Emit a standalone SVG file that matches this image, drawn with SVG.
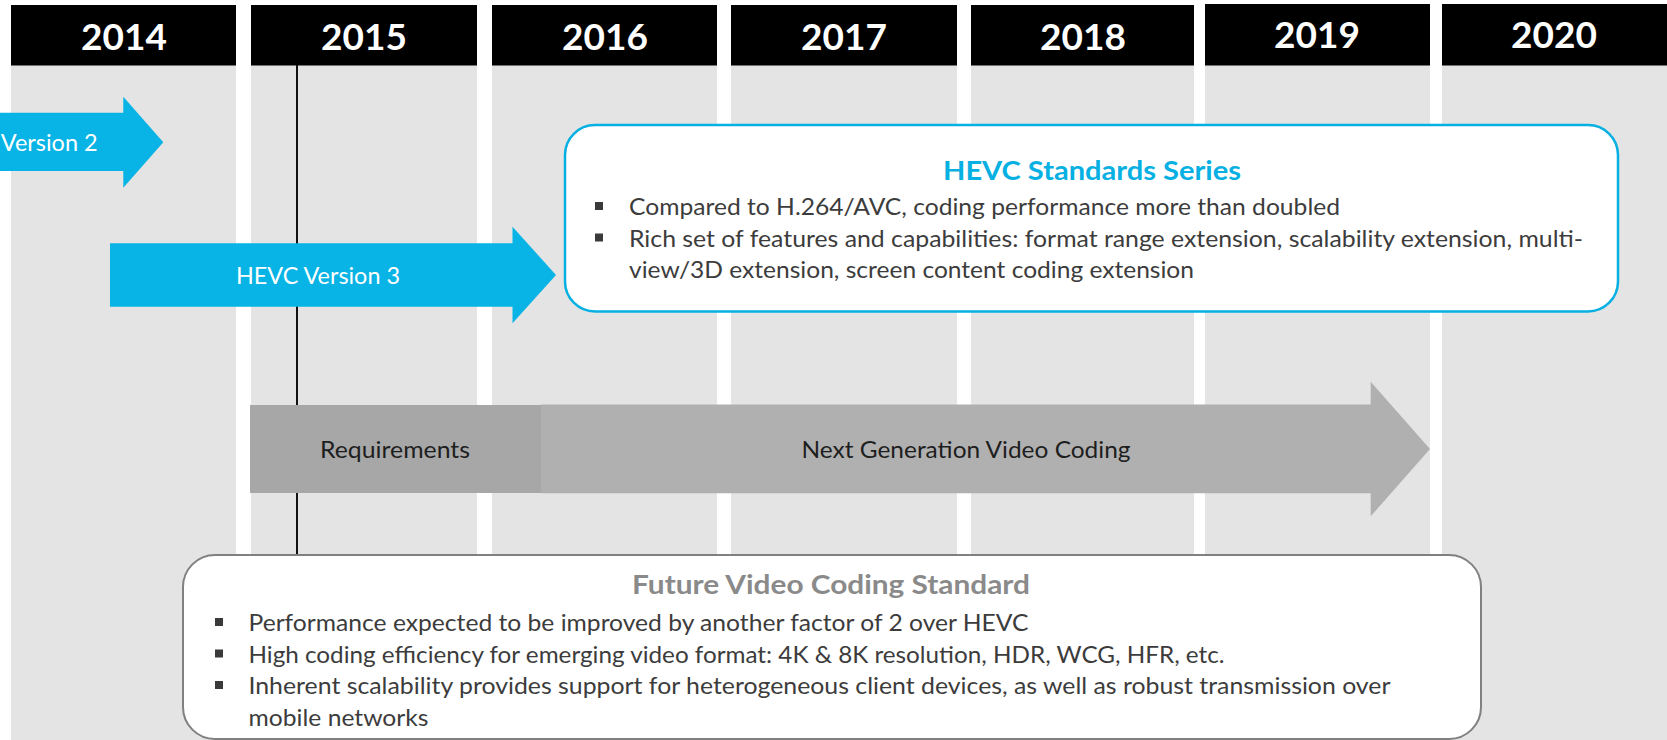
<svg xmlns="http://www.w3.org/2000/svg" width="1667" height="740" viewBox="0 0 1667 740">
<style>
.col{fill:#e4e4e4}
.hdr{fill:#000}
.yr{font-family:Lato,"Liberation Sans",sans-serif;font-weight:bold;font-size:37px;fill:#fff;text-anchor:middle}
.lbl{font-family:Lato,"Liberation Sans",sans-serif;font-size:23.5px}
.wl{fill:#fff}
.dl{fill:#1e1e1e;text-anchor:middle}
.cy{fill:#07b4e5}
.body{font-family:Lato,"Liberation Sans",sans-serif;font-size:23.5px;fill:#3c3c3c}
.ttl{font-family:Lato,"Liberation Sans",sans-serif;font-weight:bold;font-size:27px;text-anchor:middle}
.bul{fill:#3a3a3a}
</style>
<rect width="1667" height="740" fill="#fff"/>
<g id="columns">
<rect class="col" x="11" y="60" width="225" height="680"/>
<rect class="col" x="251" y="60" width="226" height="680"/>
<rect class="col" x="492" y="60" width="225" height="680"/>
<rect class="col" x="731" y="60" width="226" height="680"/>
<rect class="col" x="971" y="60" width="223" height="680"/>
<rect class="col" x="1205" y="60" width="225" height="680"/>
<rect class="col" x="1442" y="60" width="225" height="680"/>
</g>
<g id="year-2014"><rect class="hdr" x="11" y="5" width="225" height="60.5"/><text class="yr" x="124" y="49.5">2014</text></g>
<g id="year-2015"><rect class="hdr" x="251" y="5" width="226" height="60.5"/><text class="yr" x="364" y="49.5">2015</text></g>
<g id="year-2016"><rect class="hdr" x="492" y="5" width="225" height="60.5"/><text class="yr" x="605" y="49.5">2016</text></g>
<g id="year-2017"><rect class="hdr" x="731" y="5" width="226" height="60.5"/><text class="yr" x="844" y="49.5">2017</text></g>
<g id="year-2018"><rect class="hdr" x="971" y="5" width="223" height="60.5"/><text class="yr" x="1083" y="49.5">2018</text></g>
<g id="year-2019"><rect class="hdr" x="1205" y="4" width="225" height="61.5"/><text class="yr" x="1317" y="47.5">2019</text></g>
<g id="year-2020"><rect class="hdr" x="1442" y="4" width="225" height="61.5"/><text class="yr" x="1554" y="47.5">2020</text></g>
<g id="connectors">
<line x1="297" y1="65" x2="297" y2="556" stroke="#111" stroke-width="2"/>
</g>
<g id="hevc-v2">
<path class="cy" d="M-5,112.7H123.3V96.7L163.3,142.3L123.3,187.7V171H-5Z"/>
<text class="lbl wl" x="97.7" y="151" text-anchor="end">Version 2</text>
</g>
<g id="hevc-v3">
<path class="cy" d="M110,243.3H512.5V226.7L556,275L512.5,323.3V306.7H110Z"/>
<text class="lbl wl" x="318" y="284" text-anchor="middle" textLength="164" lengthAdjust="spacingAndGlyphs">HEVC Version 3</text>
</g>
<g id="requirements">
<rect x="250" y="405" width="291" height="88" fill="#a7a7a7"/>
<text class="lbl dl" x="395" y="458" textLength="150" lengthAdjust="spacingAndGlyphs">Requirements</text>
</g>
<g id="next-gen">
<path d="M541,404.5H1370.7V381.7L1430,449L1370.7,516.3V493.3H541Z" fill="#b0b0b0"/>
<text class="lbl dl" x="966" y="458" textLength="329" lengthAdjust="spacingAndGlyphs">Next Generation Video Coding</text>
</g>
<g id="hevc-series">
<rect x="565" y="125" width="1053" height="186.5" rx="30" ry="30" fill="#fff" stroke="#07b0e2" stroke-width="2.5"/>
<text class="ttl" x="1092" y="180" fill="#07b0e2" textLength="298" lengthAdjust="spacingAndGlyphs">HEVC Standards Series</text>
<rect class="bul" x="595" y="202" width="8" height="8"/>
<rect class="bul" x="595" y="233.5" width="8" height="8"/>
<text class="body" x="629" y="215" textLength="711" lengthAdjust="spacingAndGlyphs">Compared to H.264/AVC, coding performance more than doubled</text>
<text class="body" x="629" y="246.5" textLength="954" lengthAdjust="spacingAndGlyphs">Rich set of features and capabilities: format range extension, scalability extension, multi-</text>
<text class="body" x="629" y="278" textLength="565" lengthAdjust="spacingAndGlyphs">view/3D extension, screen content coding extension</text>
</g>
<g id="future-standard">
<rect x="183" y="555" width="1298" height="184" rx="32" ry="32" fill="#fff" stroke="#808080" stroke-width="2"/>
<text class="ttl" x="831" y="594" fill="#8a8a8a" textLength="398" lengthAdjust="spacingAndGlyphs">Future Video Coding Standard</text>
<rect class="bul" x="215" y="618" width="8" height="8"/>
<rect class="bul" x="215" y="649.5" width="8" height="8"/>
<rect class="bul" x="215" y="681" width="8" height="8"/>
<text class="body" x="248.5" y="631" textLength="780" lengthAdjust="spacingAndGlyphs">Performance expected to be improved by another factor of 2 over HEVC</text>
<text class="body" x="248.5" y="662.5" textLength="976" lengthAdjust="spacingAndGlyphs">High coding efficiency for emerging video format: 4K &amp; 8K resolution, HDR, WCG, HFR, etc.</text>
<text class="body" x="248.5" y="694" textLength="1142" lengthAdjust="spacingAndGlyphs">Inherent scalability provides support for heterogeneous client devices, as well as robust transmission over</text>
<text class="body" x="248.5" y="725.5" textLength="180" lengthAdjust="spacingAndGlyphs">mobile networks</text>
</g>
</svg>
